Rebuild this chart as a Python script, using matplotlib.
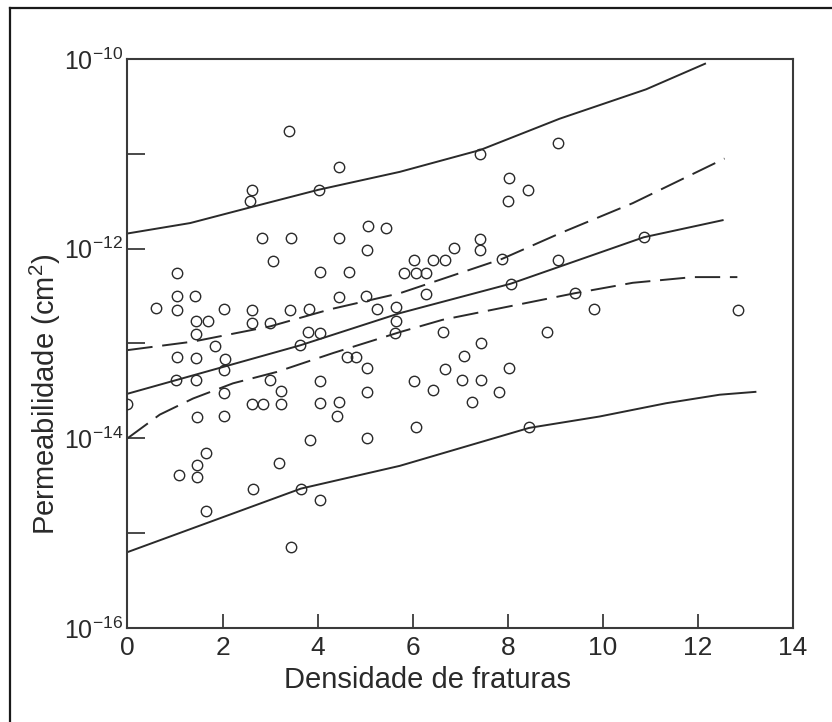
import numpy as np
import matplotlib
matplotlib.use("Agg")
import matplotlib.pyplot as plt
from matplotlib.lines import Line2D
from matplotlib.ticker import FixedLocator, FuncFormatter, NullLocator

plt.rcParams['font.family'] = ['Liberation Sans', 'DejaVu Sans']
plt.rcParams['mathtext.default'] = 'regular'

# pontos medidos (densidade de fraturas, log10 da permeabilidade em cm2)
densidade = [0.00, 0.60, 1.05, 1.05, 1.05, 1.04, 1.03, 1.09, 1.43, 1.45,
             1.69, 1.45, 1.44, 1.45, 1.47, 1.47, 1.46, 1.65, 1.66, 1.84,
             2.03, 2.06, 2.03, 2.03, 2.04, 2.57, 2.62, 2.62, 2.62, 3.00,
             2.83, 3.07, 2.61, 2.85, 2.64, 3.00, 3.22, 3.22, 3.18, 3.40,
             3.44, 3.42, 3.63, 3.43, 3.65, 3.82, 3.79, 4.04, 3.84, 4.02,
             4.05, 4.04, 4.05, 4.05, 4.45, 4.46, 4.45, 4.45, 4.41, 4.61,
             4.81, 4.66, 5.03, 5.07, 5.43, 5.02, 5.03, 5.04, 5.03, 5.25,
             5.65, 5.65, 5.63, 5.82, 6.03, 6.06, 6.28, 6.28, 6.43, 6.68,
             6.03, 6.43, 6.08, 6.63, 6.67, 6.86, 7.04, 7.08, 7.25, 7.42,
             7.42, 7.42, 7.44, 7.44, 7.82, 7.87, 8.02, 8.01, 8.06, 8.02,
             8.42, 8.45, 8.83, 9.06, 9.06, 9.41, 9.81, 10.86, 12.85]
log_perm = [-13.64, -12.63, -12.26, -12.50, -12.65, -13.14, -13.39, -14.39, -12.50, -12.76,
            -12.76, -12.90, -13.15, -13.39, -13.77, -14.28, -14.41, -14.16, -14.77, -13.03,
            -12.64, -13.16, -13.28, -13.52, -13.76, -11.50, -11.38, -12.65, -12.78, -12.78,
            -11.89, -12.13, -13.64, -13.64, -14.53, -13.39, -13.50, -13.64, -14.26, -10.76,
            -11.89, -12.65, -13.02, -15.15, -14.53, -12.64, -12.88, -12.89, -14.02, -11.38,
            -12.25, -13.40, -13.63, -14.65, -11.14, -11.89, -12.51, -13.62, -13.76, -13.14,
            -13.14, -12.25, -12.01, -11.76, -11.78, -12.50, -13.26, -13.51, -14.00, -12.64,
            -12.62, -12.76, -12.89, -12.26, -12.12, -12.26, -12.26, -12.48, -12.12, -12.12,
            -13.40, -13.49, -13.88, -12.88, -13.27, -11.99, -13.38, -13.13, -13.62, -11.00,
            -11.90, -12.01, -13.00, -13.39, -13.51, -12.11, -11.26, -11.50, -12.37, -13.26,
            -11.38, -13.88, -12.88, -10.89, -12.12, -12.47, -12.64, -11.88, -12.65]

# curvas (solidas: regressao e limites de predicao, tracejadas: confianca)
reg_x = [0.0, 3.63, 5.73, 8.06, 10.86, 12.52]
reg_log = [-13.53, -13.02, -12.68, -12.37, -11.88, -11.70]

pred_sup_x = [0.0, 1.32, 2.62, 4.01, 5.73, 7.42, 9.09, 10.91, 12.15]
pred_sup_log = [-11.84, -11.73, -11.56, -11.38, -11.19, -10.96, -10.63, -10.32, -10.05]

pred_inf_x = [0.0, 3.65, 5.73, 8.45, 9.93, 11.33, 12.46, 13.21]
pred_inf_log = [-15.20, -14.53, -14.29, -13.89, -13.77, -13.63, -13.54, -13.51]

conf_sup_x = [0.0, 1.38, 3.00, 4.26, 5.73, 7.87, 9.09, 10.63, 12.56]
conf_sup_log = [-13.07, -12.98, -12.82, -12.64, -12.47, -12.11, -11.84, -11.52, -11.05]

conf_inf_x = [0.0, 0.68, 1.38, 2.22, 3.14, 4.33, 5.73, 6.63, 9.41, 10.63, 11.89, 12.83]
conf_inf_log = [-14.00, -13.75, -13.58, -13.42, -13.30, -13.10, -12.88, -12.75, -12.47, -12.36, -12.30, -12.30]

cor = '#2a2a2a'

fig = plt.figure(figsize=(8.32, 7.22), dpi=100)
ax = fig.add_axes([0.1532, 0.1302, 0.7999, 0.7881])

ax.plot(densidade, 10.0 ** np.array(log_perm), 'o', ms=7.5, mfc='none', mec=cor, mew=1.0, zorder=3)

for xs, ls in [(reg_x, reg_log), (pred_sup_x, pred_sup_log), (pred_inf_x, pred_inf_log)]:
    ax.plot(xs, 10.0 ** np.array(ls), '-', color=cor, lw=1.4)
for xs, ls in [(conf_sup_x, conf_sup_log), (conf_inf_x, conf_inf_log)]:
    ax.plot(xs, 10.0 ** np.array(ls), '--', color=cor, lw=1.4, dashes=(13, 5))

ax.set_yscale('log')
ax.set_xlim(0, 14)
ax.set_ylim(1e-16, 1e-10)

ax.yaxis.set_major_locator(FixedLocator([10.0 ** e for e in range(-16, -9)]))
ax.yaxis.set_minor_locator(NullLocator())

def rotulo_y(v, pos):
    e = int(round(np.log10(v)))
    if e % 2 == 0:
        return '$10^{%d}$' % e
    return ''

ax.yaxis.set_major_formatter(FuncFormatter(rotulo_y))
ax.set_xticks(range(0, 15, 2))

ax.tick_params(axis='x', direction='in', length=10, width=1.2, colors=cor, labelsize=19, pad=6)
ax.tick_params(axis='y', direction='in', length=13, width=1.2, colors=cor, labelsize=18, pad=3)
for s in ax.spines.values():
    s.set_color('#3a3a3a')
    s.set_linewidth(1.5)

ax.set_xlabel('Densidade de fraturas', fontsize=21, color=cor)
ax.set_ylabel('Permeabilidade (cm$^2$)', fontsize=21, color=cor)
ax.xaxis.set_label_coords(0.451, -0.066)
ax.yaxis.set_label_coords(-0.097, 0.411)

# moldura externa da figura
fx = 10 / 832
fy = 1 - 8 / 722
fig.add_artist(Line2D([fx, fx], [0, fy], transform=fig.transFigure, color='#1a1a1a', lw=1.6))
fig.add_artist(Line2D([fx, 1], [fy, fy], transform=fig.transFigure, color='#1a1a1a', lw=1.6))

fig.savefig('out.png', dpi=100)
